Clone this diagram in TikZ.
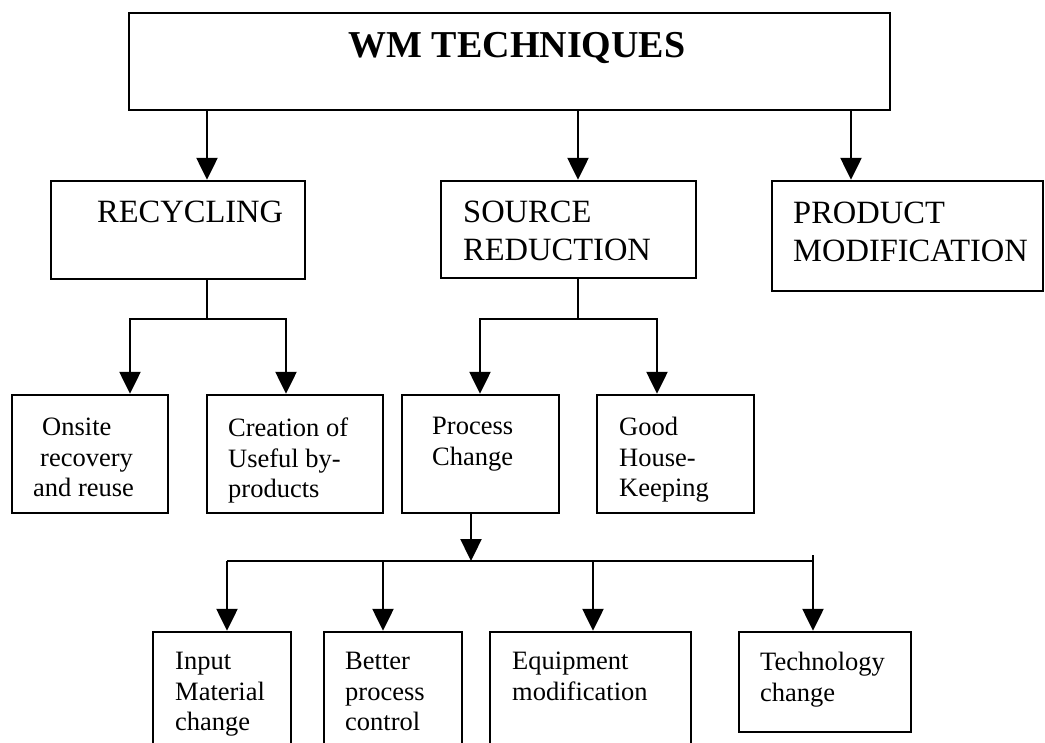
\documentclass[tikz,border=0pt]{standalone}
\usepackage{fontspec}
\setmainfont{Liberation Serif}
\usetikzlibrary{arrows.meta}

\begin{document}
\begin{tikzpicture}[x=1pt,y=-1pt,
	box/.style={draw=black, line width=2.4pt, inner sep=0pt},
	link/.style={draw=black, line width=2.4pt},
	arr/.style={link, -{Triangle[length=22pt,width=21pt]}},
	bigtxt/.style={anchor=north west, inner sep=0pt, align=left, font=\fontsize{32.5}{38}\selectfont},
	smalltxt/.style={anchor=north west, inner sep=0pt, align=left, font=\fontsize{26.5}{30.5}\selectfont}]

	\useasboundingbox (0,0) rectangle (1045,743);
	\clip (0,0) rectangle (1045,743);

	%Top box
	\node[box, minimum width=761pt, minimum height=97pt] (wm) at (509.5,61.5) {};
	\node[inner sep=0pt, font=\bfseries\fontsize{38}{44}\selectfont] (wmT) at (517,48) {WM TECHNIQUES};

	%Second row
	\node[box, minimum width=254pt, minimum height=98pt] (rec) at (178,230) {};
	\node[bigtxt] (recT) at (97,201) {RECYCLING};
	\node[box, minimum width=255pt, minimum height=97pt] (src) at (568.5,229.5) {};
	\node[bigtxt] (srcT) at (463,201) {SOURCE\\REDUCTION};
	\node[box, minimum width=271pt, minimum height=110pt] (prod) at (907.5,236) {};
	\node[bigtxt] (prodT) at (793,202) {PRODUCT\\MODIFICATION};

	%Third row
	\node[box, minimum width=156pt, minimum height=118pt] (onsite) at (90,454) {};
	\node[smalltxt] (onsiteT) at (33,418) {\hspace*{9pt}Onsite\\\hspace*{7pt}recovery\\and reuse};
	\node[box, minimum width=176pt, minimum height=118pt] (creat) at (295,454) {};
	\node[smalltxt] (creatT) at (228,418) {Creation of\\Useful by-\\products};
	\node[box, minimum width=157pt, minimum height=118pt] (proc) at (480.5,454) {};
	\node[smalltxt] (procT) at (432,417) {Process\\Change};
	\node[box, minimum width=157pt, minimum height=118pt] (good) at (675.5,454) {};
	\node[smalltxt] (goodT) at (619,417) {Good\\House-\\Keeping};

	%Bottom row
	\node[box, minimum width=138pt, minimum height=133pt] (inp) at (222,698.5) {};
	\node[smalltxt] (inpT) at (175,652) {Input\\Material\\change};
	\node[box, minimum width=138pt, minimum height=133pt] (bet) at (393,698.5) {};
	\node[smalltxt] (betT) at (345,652) {Better\\process\\control};
	\node[box, minimum width=201pt, minimum height=133pt] (equ) at (590.5,698.5) {};
	\node[smalltxt] (equT) at (512,652) {Equipment\\modification};
	\node[box, minimum width=172pt, minimum height=100pt] (tech) at (825,682) {};
	\node[smalltxt] (techT) at (760,652) {Technology\\change};

	%Arrows from top box
	\coordinate (xRec) at (207,0);
	\coordinate (xSrc) at (578,0);
	\coordinate (xProd) at (851,0);
	\draw[arr] (wm.south -| xRec) -- (rec.north -| xRec);
	\draw[arr] (wm.south -| xSrc) -- (src.north -| xSrc);
	\draw[arr] (wm.south -| xProd) -- (prod.north -| xProd);

	%Recycling branch
	\coordinate (recJ) at (207,319);
	\draw[link] (rec.south -| recJ) -- (recJ);
	\draw[arr] (recJ) -| ([xshift=40pt]onsite.north);
	\draw[arr] (recJ) -| ([xshift=-9pt]creat.north);

	%Source reduction branch
	\coordinate (srcJ) at (578,319);
	\draw[link] (src.south -| srcJ) -- (srcJ);
	\draw[arr] (srcJ) -| ([xshift=-0.5pt]proc.north);
	\draw[arr] (srcJ) -| ([xshift=-18.5pt]good.north);

	%Process change branch
	\coordinate (pcJ) at (471,561);
	\coordinate (busL) at (227,561);
	\coordinate (busB) at (383,561);
	\coordinate (busE) at (593,561);
	\coordinate (busR) at (813,561);
	\coordinate (busTop) at (813,555);
	\draw[arr] (proc.south -| pcJ) -- (pcJ);
	\draw[link] (busL) -- (busR);
	\draw[arr] (busL) -- (inp.north -| busL);
	\draw[arr] (busB) -- (bet.north -| busB);
	\draw[arr] (busE) -- (equ.north -| busE);
	\draw[arr] (busTop) -- (tech.north -| busTop);

\end{tikzpicture}
\end{document}
